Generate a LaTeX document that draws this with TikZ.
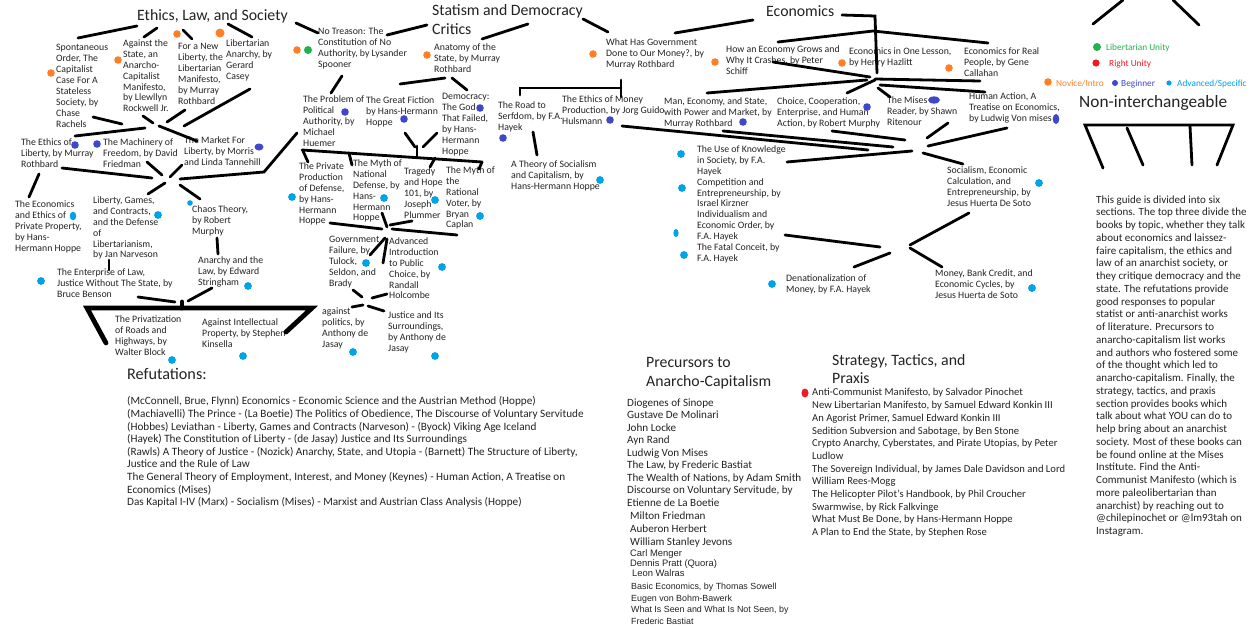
\documentclass[tikz,border=0pt]{standalone}
\usepackage{fontspec}
\setmainfont{Carlito}
\newfontfamily\arialf{Liberation Sans}
\definecolor{porange}{RGB}{255,127,39}
\definecolor{pgreen}{RGB}{34,177,76}
\definecolor{pred}{RGB}{237,28,36}
\definecolor{pblue}{RGB}{63,72,204}
\definecolor{plblue}{RGB}{0,162,232}
\definecolor{ink}{RGB}{35,35,35}
\begin{document}
\begin{tikzpicture}[x=1pt,y=-1pt,
 lbl/.style={font=\fontsize{9.8}{10.9}\selectfont, align=left, anchor=north west, inner sep=0pt, text=ink, yshift=4.6pt},
 ttl/.style={font=\fontsize{15.8}{19}\selectfont, align=left, anchor=north west, inner sep=0pt, text=ink, yshift=7.6pt},
 leg/.style={font=\fontsize{9.3}{11}\selectfont, anchor=base west, inner sep=0pt, yshift=-3pt},
 one/.style={font=\fontsize{11.1}{12.5}\selectfont, anchor=base west, inner sep=0pt, text=ink, yshift=-3pt},
 onea/.style={font=\arialf\fontsize{8.9}{11}\selectfont, anchor=base west, inner sep=0pt, text=ink, yshift=-3pt},
 ln/.style={line width=2.8pt, line cap=round},
 thk/.style={line width=4.8pt, line cap=round}]
\useasboundingbox (0,0) rectangle (1254,629);
\fill[white] (0,0) rectangle (1254,629);

% ---------------- titles ----------------
\node[ttl] (tEthics) at (137,17) {Ethics, Law, and Society};
\node[ttl] (tStatism) at (432,12) {Statism and Democracy\\Critics};
\node[ttl] (tEcon) at (766,13) {Economics};
\node[ttl, font=\fontsize{17.3}{20}\selectfont] (tNon) at (1079,103) {Non-interchangeable};
\node[ttl, font=\fontsize{15.8}{18.6}\selectfont] (tPrec) at (646,365) {Precursors to\\Anarcho-Capitalism};
\node[ttl, font=\fontsize{15.8}{17.5}\selectfont] (tStrat) at (832,362) {Strategy, Tactics, and\\Praxis};
\node[ttl, font=\fontsize{16.2}{19}\selectfont] (tRef) at (127,376) {Refutations:};

% ---------------- Ethics, Law, and Society ----------------
\node[lbl] (spont) at (56,49) {Spontaneous\\Order, The\\Capitalist\\Case For A\\Stateless\\Society, by\\Chase\\Rachels};
\node[lbl] (againstst) at (123,44) {Against the\\State, an\\Anarcho-\\Capitalist\\Manifesto,\\by Llewllyn\\Rockwell Jr.};
\node[lbl] (newlib) at (178,48) {For a New\\Liberty, the\\Libertarian\\Manifesto,\\by Murray\\Rothbard};
\node[lbl] (casey) at (226,44) {Libertarian\\Anarchy, by\\Gerard\\Casey};
\node[lbl] (ethlib) at (21,143) {The Ethics of\\Liberty, by Murray\\Rothbard};
\node[lbl] (machinery) at (103,143) {The Machinery of\\Freedom, by David\\Friedman};
\node[lbl] (market) at (184,141) {The Market For\\Liberty, by Morris\\and Linda Tannehill};
\node[lbl] (econeth) at (15,205) {The Economics\\and Ethics of\\Private Property,\\by Hans-\\Hermann Hoppe};
\node[lbl] (lgc) at (93,201) {Liberty, Games,\\and Contracts,\\and the Defense\\of\\Libertarianism,\\by Jan Narveson};
\node[lbl] (chaos) at (192,210) {Chaos Theory,\\by Robert\\Murphy};
\node[lbl] (anarlaw) at (198,261) {Anarchy and the\\Law, by Edward\\Stringham};
\node[lbl] (enterprise) at (57,273) {The Enterprise of Law,\\Justice Without The State, by\\Bruce Benson};
\node[lbl] (roads) at (115,320) {The Privatization\\of Roads and\\Highways, by\\Walter Block};
\node[lbl] (ip) at (202,323) {Against Intellectual\\Property, by Stephen\\Kinsella};

\draw[ln] (78,38) -- (137,26);
\draw[ln] (144,37) -- (157,28);
\draw[ln] (183,30) -- (192,39);
\draw[ln] (228,24) -- (252,37);
\draw[ln] (296,23) -- (318,33);
\draw[ln] (93,117) -- (122,124);
\draw[ln] (143,116) -- (153,123);
\draw[ln] (167,122) -- (185,110);
\draw[ln] (184,126) -- (250,89);
\draw[ln] (75,136) -- (145,128);
\draw[ln] (159,126) -- (197,141);
\draw[ln] (62,168) -- (152,178);
\draw[ln] (147,162) -- (162,175);
\draw[ln] (170,177) -- (182,165);
\draw[ln] (180,179) -- (264,172) -- (297,133);
\draw[ln] (39,174) -- (29,197);
\draw[ln] (148,194) -- (165,183);
\draw[ln] (180,185) -- (200,199);
\draw[ln] (217,238) -- (218,254);
\draw[ln] (109,260) -- (109,270);
\draw[ln] (138,297) -- (175,302);
\draw[ln] (188,301) -- (212,288);
\draw[thk] (106,343) -- (87,308) -- (312,308) -- (286,332);
\draw[thk] (182,302) -- (182,308);

% ---------------- Statism and Democracy Critics ----------------
\node[lbl] (notreason) at (318,32) {No Treason: The\\Constitution of No\\Authority, by Lysander\\Spooner};
\node[lbl] (anatomy) at (434,48) {Anatomy of the\\State, by Murray\\Rothbard};
\node[lbl] (problem) at (303,100) {The Problem of\\Political\\Authority, by\\Michael\\Huemer};
\node[lbl] (fiction) at (366,101) {The Great Fiction\\by Hans-Hermann\\Hoppe};
\node[lbl] (democracy) at (442,98) {Democracy:\\The God\\That Failed,\\by Hans-\\Hermann\\Hoppe};
\node[lbl] (privdef) at (299,167) {The Private\\Production\\of Defense,\\by Hans-\\Hermann\\Hoppe};
\node[lbl] (mythnat) at (353,164) {The Myth of\\National\\Defense, by\\Hans-\\Hermann\\Hoppe};
\node[lbl] (tragedy) at (404,172) {Tragedy\\and Hope\\101, by\\Joseph\\Plummer};
\node[lbl] (mythrat) at (446,171) {The Myth of\\the\\Rational\\Voter, by\\Bryan\\Caplan};
\node[lbl] (govfail) at (329,241) {Government\\Failure, by\\Tulock,\\Seldon, and\\Brady};
\node[lbl] (advanced) at (389,242) {Advanced\\Introduction\\to Public\\Choice, by\\Randall\\Holcombe};
\node[lbl] (againstpol) at (322,312) {against\\politics, by\\Anthony de\\Jasay};
\node[lbl] (justice) at (388,316) {Justice and Its\\Surroundings,\\by Anthony de\\Jasay};

\draw[ln] (387,35) -- (427,25);
\draw[ln] (482,39) -- (528,24);
\draw[ln] (583,19) -- (608,32);
\draw[ln] (342,76) -- (331,93);
\draw[ln] (400,84) -- (445,78);
\draw[ln] (452,78) -- (467,90);
\draw[ln] (405,133) -- (415,147);
\draw[ln] (423,147) -- (437,133);
\draw[ln] (302,150) -- (482,162);
\draw[ln] (417,146) -- (417,157);
\draw[ln] (303,151) -- (308,162);
\draw[ln] (349,153) -- (352,165);
\draw[ln] (435,158) -- (430,167);
\draw[ln] (482,162) -- (479,169);
\draw[ln] (330,223) -- (382,229);
\draw[ln] (382,213) -- (387,227);
\draw[ln] (390,225) -- (412,221);
\draw[ln] (392,229) -- (457,235);
\draw[ln] (370,255) -- (385,238);
\draw[ln] (383,263) -- (387,239);
\draw[ln] (353,290) -- (362,297);
\draw[ln] (372,298) -- (387,294);
\draw[ln] (352,307) -- (363,305);
\draw[ln] (368,306) -- (384,311);

% ---------------- Economics ----------------
\node[lbl] (whathas) at (606,43) {What Has Government\\Done to Our Money?, by\\Murray Rothbard};
\node[lbl] (schiff) at (726,50) {How an Economy Grows and\\Why It Crashes, by Peter\\Schiff};
\node[lbl] (hazlitt) at (849,52) {Economics in One Lesson,\\by Henry Hazlitt};
\node[lbl] (callahan) at (964,52) {Economics for Real\\People, by Gene\\Callahan};
\node[lbl] (road) at (498,106) {The Road to\\Serfdom, by F.A.\\Hayek};
\node[lbl] (ethmoney) at (562,100) {The Ethics of Money\\Production, by Jorg Guido\\Hulsmann};
\node[lbl] (theory) at (511,165) {A Theory of Socialism\\and Capitalism, by\\Hans-Hermann Hoppe};
\node[lbl] (mes) at (664,102) {Man, Economy, and State,\\with Power and Market, by\\Murray Rothbard};
\node[lbl] (choice) at (777,102) {Choice, Cooperation,\\Enterprise, and Human\\Action, by Robert Murphy};
\node[lbl] (misesr) at (887,101) {The Mises\\Reader, by Shawn\\Ritenour};
\node[lbl] (humact) at (969,97) {Human Action, A\\Treatise on Economics,\\by Ludwig Von mises};
\node[lbl] (hayeks) at (697,150) {The Use of Knowledge\\in Society, by F.A.\\Hayek\\Competition and\\Entrepreneurship, by\\Israel Kirzner\\Individualism and\\Economic Order, by\\F.A. Hayek\\The Fatal Conceit, by\\F.A. Hayek};
\node[lbl] (socialism) at (947,171) {Socialism, Economic\\Calculation, and\\Entrepreneurship, by\\Jesus Huerta De Soto};
\node[lbl] (denat) at (786,279) {Denationalization of\\Money, by F.A. Hayek};
\node[lbl] (moneybank) at (935,274) {Money, Bank Credit, and\\Economic Cycles, by\\Jesus Huerta de Soto};

\draw[ln] (675,33) -- (753,20);
\draw[ln] (778,42) -- (873,31) -- (988,43);
\draw[ln] (842,15) -- (875,16) -- (877,73);
\draw[ln] (520,95) -- (520,88) -- (621,88);
\draw[ln] (621,80) -- (621,97);
\draw[ln] (533,132) -- (537,155);
\draw[ln] (773,62) -- (870,77);
\draw[ln] (707,93) -- (867,80);
\draw[ln] (847,93) -- (875,80);
\draw[ln] (878,88) -- (890,97);
\draw[ln] (875,79) -- (980,81);
\draw[ln] (880,85) -- (985,92);
\draw[ln] (622,126) -- (868,150);
\draw[ln] (723,131) -- (893,147);
\draw[ln] (832,131) -- (905,140);
\draw[ln] (787,162) -- (912,151);
\draw[ln] (927,138) -- (948,123);
\draw[ln] (928,146) -- (1007,128);
\draw[ln] (923,153) -- (963,164);
\draw[ln] (785,235) -- (880,247);
\draw[ln] (854,267) -- (890,253);
\draw[ln] (910,245) -- (969,213);
\draw[ln] (910,248) -- (942,267);

% ---------------- dots ----------------
\foreach \p in {(51,73),(118,60),(177,34),(297,50),(427,55),(593,54),(715,62),(842,63),(949,68),(1048,82)}
  \fill[porange] \p circle (3.8pt);
\fill[porange] (220,33) circle (4.5pt);
\fill[pgreen] (308,50) circle (4pt);
\fill[pgreen] (1097,47) circle (4pt);
\fill[pred] (1096,63) circle (3.6pt);
\fill[pred] (805,393) ellipse (3.5pt and 4.5pt);
\foreach \p in {(75,145),(97,144),(345,112),(404,119),(480,108),(503,138),(610,120),(743,122),(867,107)}
  \fill[pblue] \p circle (3.8pt);
\fill[pblue] (259,147) ellipse (4.5pt and 3.5pt);
\fill[pblue] (934,100) ellipse (6pt and 3.6pt);
\fill[pblue] (1056,119) ellipse (3.3pt and 5pt);
\fill[pblue] (1115,83) ellipse (3pt and 3pt);
\foreach \p in {(158,215),(248,286),(41,281),(172,360),(243,356),(292,197),(384,198),(435,200),(480,216),(366,263),(442,267),(353,352),(435,356),(600,180),(681,154),(682,188),(684,255),(772,284),(1039,183),(1032,288)}
  \fill[plblue] \p circle (3.9pt);
\fill[plblue] (73,216) ellipse (3.3pt and 4.3pt);
\fill[plblue] (190,203) circle (2.8pt);
\fill[plblue] (676,233) ellipse (2.6pt and 4pt);
\fill[plblue] (1169,83) circle (2.6pt);

% ---------------- legend ----------------
\node[leg, text=pgreen] (lgLib) at (1106,47) {Libertarian Unity};
\node[leg, text=pred] (lgRight) at (1109,63) {Right Unity};
\node[leg, text=porange] (lgNov) at (1056,83) {Novice/Intro};
\node[leg, text=pblue] (lgBeg) at (1121,83) {Beginner};
\node[leg, text=plblue] (lgAdv) at (1177,83) {Advanced/Specific};
\draw[ln] (1093,24) -- (1123,0);
\draw[ln] (1173,0) -- (1199,25);
\draw[ln] (1103,168) -- (1085,125) -- (1233,125) -- (1217,165);
\draw[ln] (1127,128) -- (1143,165);
\draw[ln] (1190,126) -- (1192,165);

% ---------------- paragraph ----------------
\node[lbl, font=\fontsize{11}{12.75}\selectfont] (guide) at (1096,200) {This guide is divided into six\\sections. The top three divide the\\books by topic, whether they talk\\about economics and laissez-\\faire capitalism, the ethics and\\law of an anarchist society, or\\they critique democracy and the\\state. The refutations provide\\good responses to popular\\statist or anti-anarchist works\\of literature. Precursors to\\anarcho-capitalism list works\\and authors who fostered some\\of the thought which led to\\anarcho-capitalism. Finally, the\\strategy, tactics, and praxis\\section provides books which\\talk about what YOU can do to\\help bring about an anarchist\\society. Most of these books can\\be found online at the Mises\\Institute. Find the Anti-\\Communist Manifesto (which is\\more paleolibertarian than\\anarchist) by reaching out to\\@chilepinochet or @lm93tah on\\Instagram.};

% ---------------- refutations ----------------
\node[lbl, font=\fontsize{11.2}{12.63}\selectfont] (refs) at (127,401) {(McConnell, Brue, Flynn) Economics - Economic Science and the Austrian Method (Hoppe)\\(Machiavelli) The Prince - (La Boetie) The Politics of Obedience, The Discourse of Voluntary Servitude\\(Hobbes) Leviathan - Liberty, Games and Contracts (Narveson) - (Byock) Viking Age Iceland\\(Hayek) The Constitution of Liberty - (de Jasay) Justice and Its Surroundings\\(Rawls) A Theory of Justice - (Nozick) Anarchy, State, and Utopia - (Barnett) The Structure of Liberty,\\Justice and the Rule of Law\\The General Theory of Employment, Interest, and Money (Keynes) - Human Action, A Treatise on\\Economics (Mises)\\Das Kapital I-IV (Marx) - Socialism (Mises) - Marxist and Austrian Class Analysis (Hoppe)};

% ---------------- precursors ----------------
\node[lbl, font=\fontsize{11.1}{12.5}\selectfont] (prec) at (627,403) {Diogenes of Sinope\\Gustave De Molinari\\John Locke\\Ayn Rand\\Ludwig Von Mises\\The Law, by Frederic Bastiat\\The Wealth of Nations, by Adam Smith\\Discourse on Voluntary Servitude, by\\Etienne de La Boetie};
\node[one] (pFried) at (630,516) {Milton Friedman};
\node[one] (pHerb) at (630,529) {Auberon Herbert};
\node[one] (pJev) at (630,542) {William Stanley Jevons};
\node[onea, font=\arialf\fontsize{9.4}{11}\selectfont] (pMeng) at (630,553) {Carl Menger};
\node[onea, font=\arialf\fontsize{9.4}{11}\selectfont] (pPratt) at (630,563) {Dennis Pratt (Quora)};
\node[onea, font=\arialf\fontsize{9.4}{11}\selectfont] (pWal) at (632,573) {Leon Walras};
\node[onea] (pSow) at (631,586) {Basic Economics, by Thomas Sowell};
\node[onea] (pBohm) at (631,598) {Eugen von Bohm-Bawerk};
\node[onea] (pSeen) at (631,609) {What Is Seen and What Is Not Seen, by};
\node[onea] (pBast) at (631,621) {Frederic Bastiat};

% ---------------- strategy ----------------
\node[lbl, font=\fontsize{10.6}{12.7}\selectfont] (strat) at (812,393) {Anti-Communist Manifesto, by Salvador Pinochet\\New Libertarian Manifesto, by Samuel Edward Konkin III\\An Agorist Primer, Samuel Edward Konkin III\\Sedition Subversion and Sabotage, by Ben Stone\\Crypto Anarchy, Cyberstates, and Pirate Utopias, by Peter\\Ludlow\\The Sovereign Individual, by James Dale Davidson and Lord\\William Rees-Mogg\\The Helicopter Pilot's Handbook, by Phil Croucher\\Swarmwise, by Rick Falkvinge\\What Must Be Done, by Hans-Hermann Hoppe\\A Plan to End the State, by Stephen Rose};
\end{tikzpicture}
\end{document}
